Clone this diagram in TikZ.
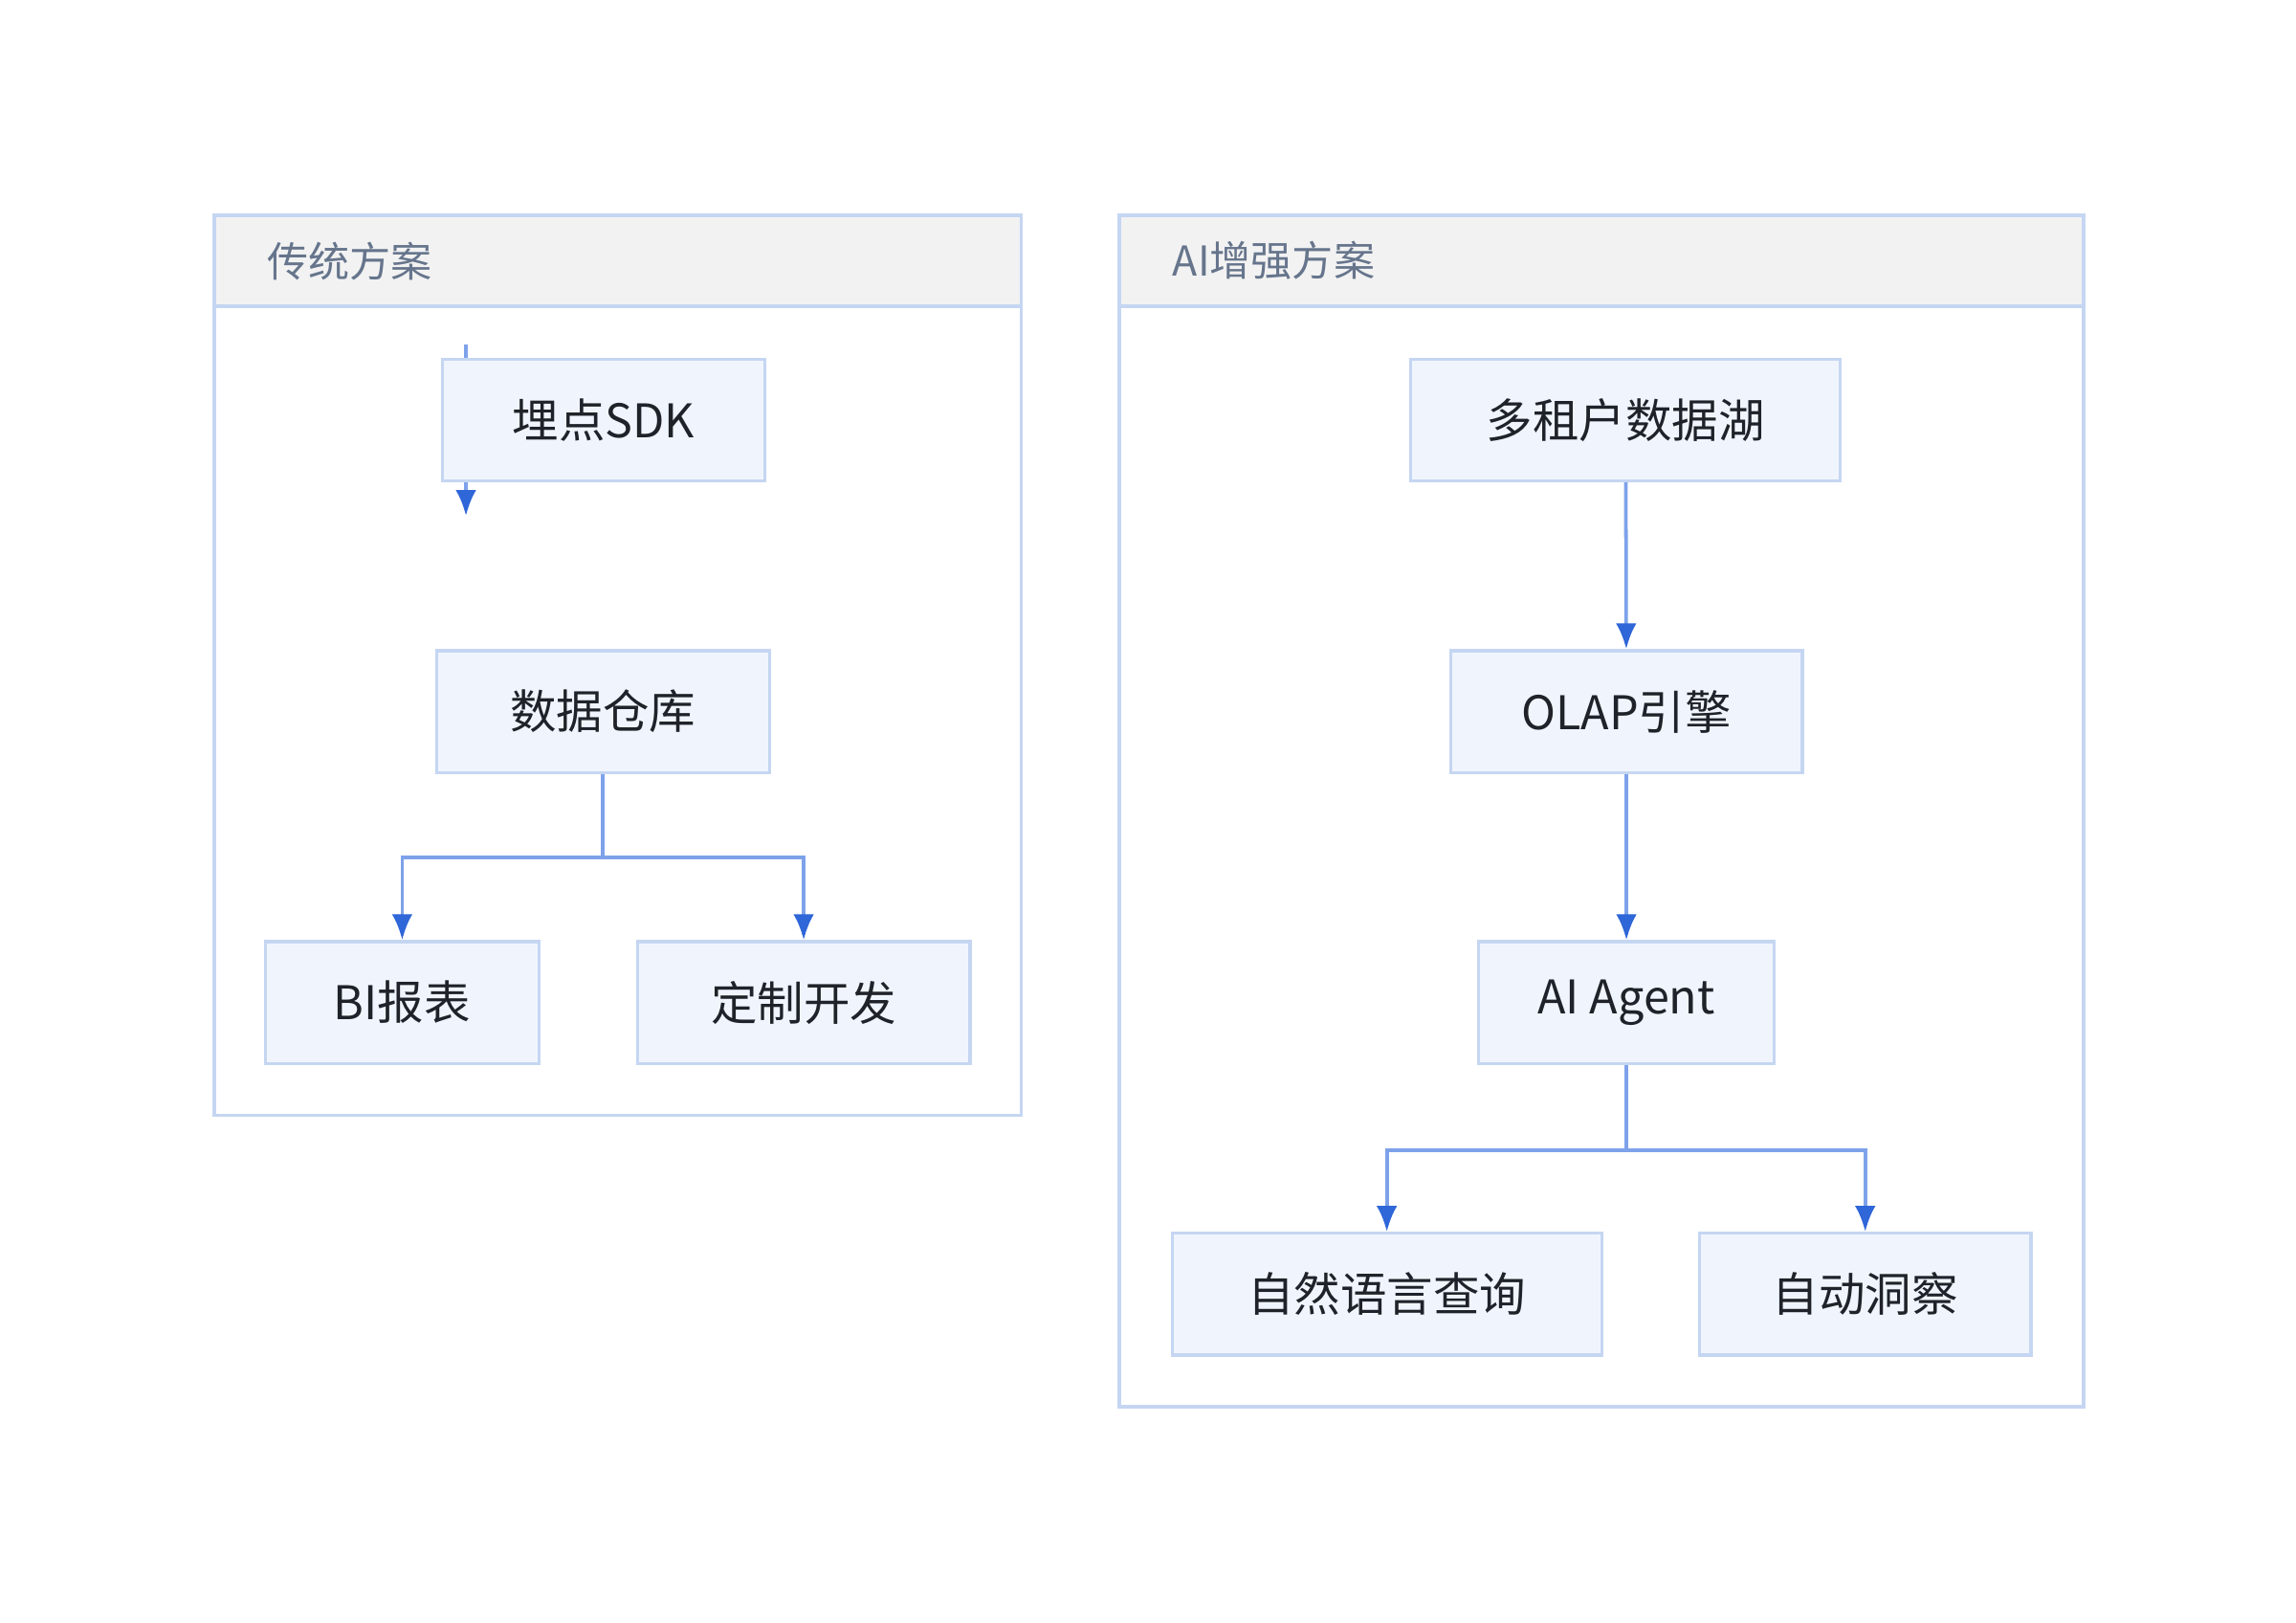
\documentclass[tikz,border=0pt]{standalone}
\usepackage{fontspec}
\setmainfont{Noto Sans CJK SC}
\usetikzlibrary{arrows.meta}
\definecolor{boxfill}{HTML}{F0F5FD}
\definecolor{boxline}{HTML}{C5D6F2}
\definecolor{edgeline}{HTML}{7EA2EA}
\definecolor{tipcol}{HTML}{2F66D8}
\definecolor{headfill}{HTML}{F2F2F2}
\definecolor{titlecol}{HTML}{66758C}
\definecolor{textcol}{HTML}{1F2329}
\tikzset{
  box/.style={draw=boxline, fill=boxfill, line width=0.6pt, minimum height=0.83cm,
    inner sep=0pt, font=\fontsize{9}{11}\selectfont, text=textcol},
  edge/.style={draw=edgeline, line width=0.7pt, -{Latex[length=5pt,width=4pt,color=tipcol]}},
  plain/.style={draw=edgeline, line width=0.7pt},
  group/.style={draw=boxline, line width=0.7pt},
  grouptitle/.style={anchor=west, font=\fontsize{8}{10}\selectfont, text=titlecol}
}
\begin{document}
\begin{tikzpicture}[x=0.01cm, y=-0.01cm]
  \useasboundingbox (0,0) rectangle (1567,1107);
  % groups
  \filldraw [group, fill=white] (146,147) rectangle (697,761);
  \filldraw [group, fill=headfill] (146,147) rectangle (697,209);
  \node [grouptitle] (ttrad) at (170,178) {传统方案};
  \filldraw [group, fill=white] (764,147) rectangle (1422,960);
  \filldraw [group, fill=headfill] (764,147) rectangle (1422,209);
  \node [grouptitle] (tai) at (788,178) {AI增强方案};

  % traditional
  \node [box, minimum width=2.20cm] (sdk) at (412,286.5) {埋点SDK};
  \node [box, minimum width=2.27cm] (dw) at (411.5,485.5) {数据仓库};
  \node [box, minimum width=1.87cm] (bi) at (274.5,684) {BI报表};
  \node [box, minimum width=2.27cm] (dev) at (548.5,684) {定制开发};
  \coordinate (sdkin) at (318,235);
  \coordinate (sdkout) at (318,352);
  \draw [plain] (sdkin) -- (sdkin |- sdk.north);
  \draw [edge] (sdkin |- sdk.south) -- (sdkout);
  \draw [edge] (dw.south) -- ++(0,57) -| (bi.north);
  \draw [edge] (dw.south) -- ++(0,57) -| (dev.north);

  % AI
  \node [box, minimum width=2.93cm] (lake) at (1109.5,286.5) {多租户数据湖};
  \node [box, minimum width=2.40cm] (olap) at (1110,485.5) {OLAP引擎};
  \node [box, minimum width=2.02cm] (agent) at (1110,684) {AI Agent};
  \node [box, minimum width=2.93cm] (nlq) at (946.5,883) {自然语言查询};
  \node [box, minimum width=2.26cm] (insight) at (1273,883) {自动洞察};
  \draw [edge] (lake) -- (olap);
  \draw [edge] (olap) -- (agent);
  \draw [edge] (agent.south) -- ++(0,58) -| (nlq.north);
  \draw [edge] (agent.south) -- ++(0,58) -| (insight.north);
\end{tikzpicture}
\end{document}
